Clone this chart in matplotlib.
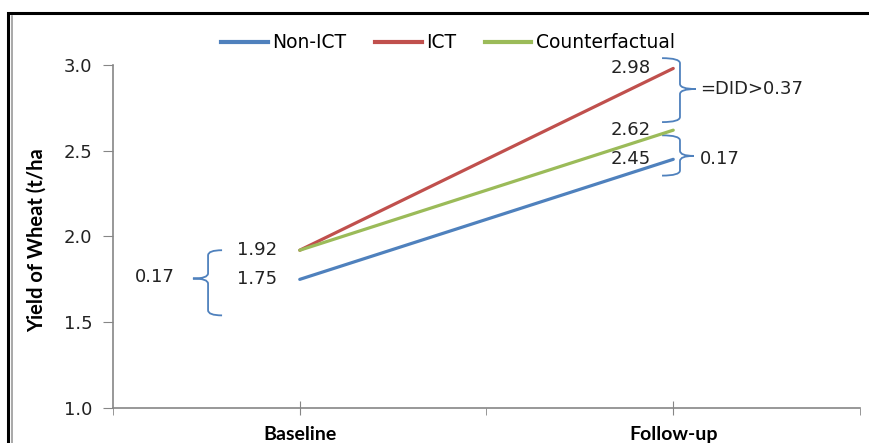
import numpy as np
import matplotlib
matplotlib.use('Agg')
import matplotlib.pyplot as plt
from matplotlib.path import Path
from matplotlib.patches import PathPatch, Rectangle
from matplotlib.lines import Line2D

# Chart data
periods = ['Baseline', 'Follow-up']
period_pos = [1, 3]
series_names = ['Non-ICT', 'ICT', 'Counterfactual']
non_ict = [1.75, 2.45]
ict = [1.92, 2.98]
counterfactual = [1.92, 2.62]
colors = ['#4F81BD', '#C0504D', '#9BBB59']

baseline_gap = '0.17'
followup_gap = '0.17'
did_label = '=DID>0.37'

plt.rcParams['font.family'] = ['DejaVu Sans']


def brace(ax, x_end, x_mid, x_tip, y0, y1, ym, r, color='#4F81BD'):
    """Curly brace drawn as a path: ends at x_end, spine at x_mid, tip at x_tip."""
    verts = [
        (x_end, y1), (x_mid, y1), (x_mid, y1 - r),
        (x_mid, ym + r),
        (x_mid, ym), (x_tip, ym),
        (x_mid, ym), (x_mid, ym - r),
        (x_mid, y0 + r),
        (x_mid, y0), (x_end, y0),
    ]
    codes = [Path.MOVETO, Path.CURVE3, Path.CURVE3,
             Path.LINETO,
             Path.CURVE3, Path.CURVE3,
             Path.CURVE3, Path.CURVE3,
             Path.LINETO,
             Path.CURVE3, Path.CURVE3]
    ax.add_patch(PathPatch(Path(verts, codes), fill=False, edgecolor=color,
                           lw=1.3, clip_on=False))


fig = plt.figure(figsize=(8.7, 4.43), dpi=100)
ax = fig.add_axes([113 / 870, 35 / 443, 747 / 870, 343 / 443])

for vals, name, c in zip([non_ict, ict, counterfactual], series_names, colors):
    ax.plot(period_pos, vals, color=c, lw=2.3, label=name, solid_capstyle='round')

ax.set_xlim(0, 4)
ax.set_ylim(1.0, 3.0)
ax.set_yticks([1.0, 1.5, 2.0, 2.5, 3.0])
ax.set_yticklabels(['1.0', '1.5', '2.0', '2.5', '3.0'], fontsize=13, color='#222222')
ax.set_xticks(period_pos)
ax.set_xticklabels(periods, fontsize=14, fontweight='bold', family='Lato')
ax.set_xticks([0, 2, 4], minor=True)
ax.tick_params(axis='x', which='major', direction='inout', length=10, color='#868686', pad=8)
ax.tick_params(axis='x', which='minor', direction='out', length=5, color='#868686')
ax.tick_params(axis='y', direction='out', length=7, color='#868686', pad=8)

for side in ['top', 'right']:
    ax.spines[side].set_visible(False)
for side in ['left', 'bottom']:
    ax.spines[side].set_color('#868686')
    ax.spines[side].set_linewidth(1.2)

ax.set_ylabel('Yield of Wheat (t/ha', fontsize=14.5, fontweight='bold', family='Lato')
ax.yaxis.set_label_coords(-0.088, 0.49)

# value labels beside each point
for vals in [non_ict, ict, counterfactual]:
    for x, v in zip(period_pos, vals):
        if x == 1 and vals is counterfactual:
            continue
        ax.annotate(f'{v:.2f}', (x, v), xytext=(-16, 0), textcoords='offset points',
                    ha='right', va='center', fontsize=13, color='#222222')

# braces and gap labels
brace(ax, 2.94, 3.036, 3.12, 2.667, 3.04, 2.86, 0.03)
brace(ax, 2.94, 3.036, 3.11, 2.355, 2.59, 2.47, 0.03)
brace(ax, 0.584, 0.509, 0.428, 1.54, 1.92, 1.755, 0.03)
ax.text(3.145, 2.86, did_label, ha='left', va='center', fontsize=13, color='#222222')
ax.text(3.145, 2.45, followup_gap, ha='left', va='center', fontsize=13, color='#222222')
ax.text(0.332, 1.765, baseline_gap, ha='right', va='center', fontsize=13, color='#222222')

# legend across the top
handles = [Line2D([], [], color=c, lw=3) for c in colors]
fig.legend(handles, series_names, loc='center', bbox_to_anchor=(0.515, 0.903), ncol=3,
           frameon=False, fontsize=13.5, handlelength=2.5, handletextpad=0.25,
           columnspacing=1.5)

# outer frame of the cropped chart
fig.patches.append(Rectangle((8 / 870, -0.1), 1.2, 0.1 + 430 / 443, transform=fig.transFigure,
                             fill=False, edgecolor='black', lw=2.2))
fig.lines.append(Line2D([12 / 870, 12 / 870], [0, 427 / 443], transform=fig.transFigure,
                        color='#9a9a9a', lw=1.2))

fig.savefig('out.png', dpi=100)
